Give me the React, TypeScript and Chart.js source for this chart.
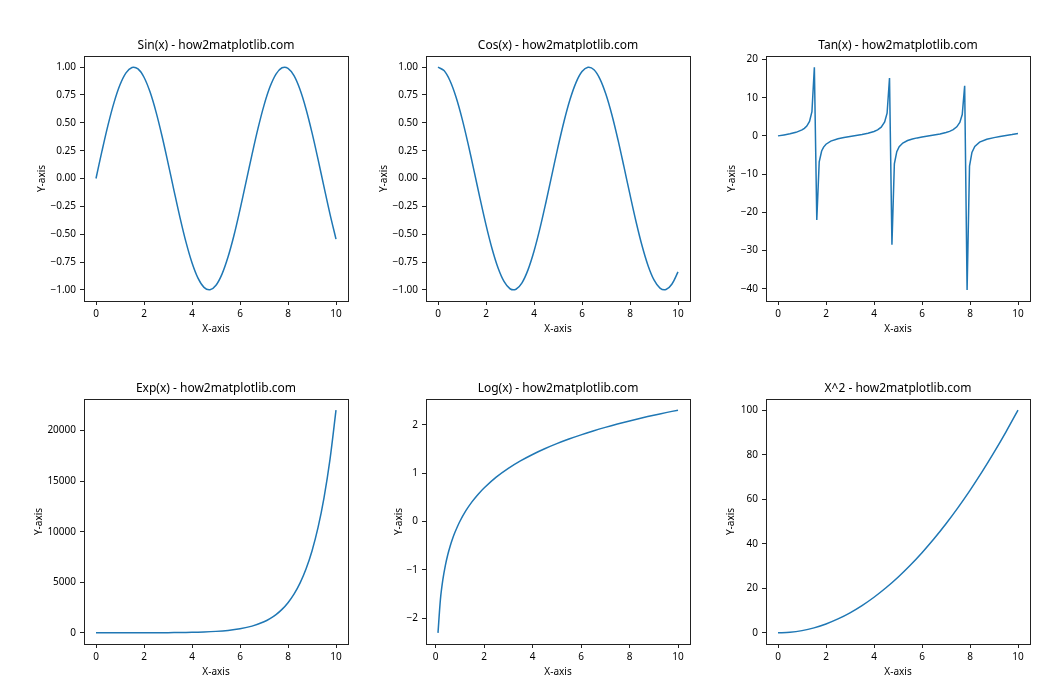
import React, { useEffect, useRef } from "react";
import { Chart, registerables } from "chart.js";

Chart.register(...registerables);

const FONT = "'Noto Sans', 'DejaVu Sans', sans-serif";
const LINE = "#1f77b4";
const INK = "#222222";

// ---------- data ----------
const xQuarter = [
  0, 0.25, 0.5, 0.75, 1, 1.25, 1.5, 1.75, 2, 2.25, 2.5, 2.75, 3, 3.25, 3.5, 3.75, 4, 4.25, 4.5, 4.75,
  5, 5.25, 5.5, 5.75, 6, 6.25, 6.5, 6.75, 7, 7.25, 7.5, 7.75, 8, 8.25, 8.5, 8.75, 9, 9.25, 9.5, 9.75, 10,
];
const sinValues = [
  0, 0.2474, 0.4794, 0.6816, 0.8415, 0.949, 0.9975, 0.984, 0.9093, 0.7781, 0.5985, 0.3817, 0.1411,
  -0.1082, -0.3508, -0.5716, -0.7568, -0.895, -0.9775, -0.9993, -0.9589, -0.8589, -0.7055, -0.5099,
  -0.2794, -0.0332, 0.2151, 0.45, 0.657, 0.8231, 0.938, 0.9946, 0.9894, 0.9228, 0.7985, 0.6247, 0.4121,
  0.1743, -0.0752, -0.3195, -0.544,
];
const cosValues = [
  1, 0.9689, 0.8776, 0.7317, 0.5403, 0.3153, 0.0707, -0.1782, -0.4161, -0.6282, -0.8011, -0.9243, -0.99,
  -0.9941, -0.9365, -0.8206, -0.6536, -0.4461, -0.2108, 0.0376, 0.2837, 0.5117, 0.7087, 0.8612, 0.9602,
  0.9994, 0.9766, 0.893, 0.7539, 0.568, 0.3466, 0.1038, -0.1455, -0.3857, -0.602, -0.7808, -0.9111,
  -0.9847, -0.9972, -0.9477, -0.8391,
];
const tanX = [
  0, 0.25, 0.5, 0.75, 1, 1.1, 1.2, 1.3131, 1.4141, 1.5152, 1.6162, 1.7172, 1.8182, 1.9, 2, 2.2, 2.5,
  2.75, 3, 3.25, 3.5, 3.75, 4, 4.15, 4.3, 4.4444, 4.5455, 4.6465, 4.7475, 4.8485, 4.9495, 5.05, 5.2,
  5.4, 5.6, 5.8, 6, 6.25, 6.5, 6.75, 7, 7.15, 7.3, 7.45, 7.5758, 7.6768, 7.7778, 7.8788, 7.9798,
  8.0808, 8.2, 8.4, 8.7, 9, 9.25, 9.5, 9.75, 10,
];
const tanValues = [
  0, 0.2553, 0.546, 0.9316, 1.557, 1.965, 2.572, 3.79, 6.33, 17.97, -22.0, -6.78, -3.96, -2.927, -2.185,
  -1.374, -0.747, -0.4129, -0.1425, 0.1088, 0.3746, 0.6978, 1.158, 1.588, 2.296, 3.64, 5.93, 15.15,
  -28.5, -7.31, -4.14, -2.835, -1.864, -1.222, -0.814, -0.5251, -0.291, -0.0332, 0.2203, 0.504,
  0.8714, 1.177, 1.62, 2.366, 3.5, 5.58, 13.1, -40.3, -7.91, -4.33, -2.748, -1.646, -0.8838, -0.4523,
  -0.1766, 0.0753, 0.3373, 0.6484,
];
const expX = [
  0, 0.5, 1, 1.5, 2, 2.5, 3, 3.5, 4, 4.5, 5, 5.5, 6, 6.5, 7, 7.25, 7.5, 7.75, 8, 8.25, 8.5, 8.75, 9,
  9.25, 9.5, 9.75, 10,
];
const expValues = [
  1, 1.65, 2.72, 4.48, 7.39, 12.18, 20.09, 33.12, 54.6, 90.0, 148.4, 244.7, 403.4, 665.1, 1096.6,
  1408.1, 1808.0, 2321.6, 2981.0, 3827.6, 4914.8, 6310.7, 8103.1, 10404.6, 13359.7, 17154.2, 22026.5,
];
const logX = [
  0.1, 0.2, 0.3, 0.4, 0.5, 0.6, 0.7, 0.8, 1, 1.25, 1.5, 1.75, 2, 2.5, 3, 3.5, 4, 4.5, 5, 5.5, 6, 6.5,
  7, 7.5, 8, 8.5, 9, 9.5, 10,
];
const logValues = [
  -2.3026, -1.6094, -1.204, -0.9163, -0.6931, -0.5108, -0.3567, -0.2231, 0, 0.2231, 0.4055, 0.5596,
  0.6931, 0.9163, 1.0986, 1.2528, 1.3863, 1.5041, 1.6094, 1.7047, 1.7918, 1.8718, 1.9459, 2.0149,
  2.0794, 2.1401, 2.1972, 2.2513, 2.3026,
];
const sqX = [0, 0.5, 1, 1.5, 2, 2.5, 3, 3.5, 4, 4.5, 5, 5.5, 6, 6.5, 7, 7.5, 8, 8.5, 9, 9.5, 10];
const sqValues = [
  0, 0.25, 1, 2.25, 4, 6.25, 9, 12.25, 16, 20.25, 25, 30.25, 36, 42.25, 49, 56.25, 64, 72.25, 81,
  90.25, 100,
];

const xTicks = [0, 2, 4, 6, 8, 10];
const xTickLabels = ["0", "2", "4", "6", "8", "10"];
const unitTicks = [-1, -0.75, -0.5, -0.25, 0, 0.25, 0.5, 0.75, 1];
const unitTickLabels = ["−1.00", "−0.75", "−0.50", "−0.25", "0.00", "0.25", "0.50", "0.75", "1.00"];
const tanTicks = [-40, -30, -20, -10, 0, 10, 20];
const tanTickLabels = ["−40", "−30", "−20", "−10", "0", "10", "20"];
const expTicks = [0, 5000, 10000, 15000, 20000];
const expTickLabels = ["0", "5000", "10000", "15000", "20000"];
const logTicks = [-2, -1, 0, 1, 2];
const logTickLabels = ["−2", "−1", "0", "1", "2"];
const sqTicks = [0, 20, 40, 60, 80, 100];
const sqTickLabels = ["0", "20", "40", "60", "80", "100"];

const titles = [
  "Sin(x) - how2matplotlib.com",
  "Cos(x) - how2matplotlib.com",
  "Tan(x) - how2matplotlib.com",
  "Exp(x) - how2matplotlib.com",
  "Log(x) - how2matplotlib.com",
  "X^2 - how2matplotlib.com",
];

// ---------- layout ----------
const PW = 264;
const PH = 245;
const LEFTS = [84, 426, 766];
const TOPS = [56, 399];
const PAD_L = 80;
const PAD_T = 40;
const PAD_R = 20;
const PAD_B = 45;

type PanelDef = {
  title: string;
  xs: number[];
  ys: number[];
  xMin: number;
  xMax: number;
  yMin: number;
  yMax: number;
  yTicks: number[];
  yTickLabels: string[];
  ylabelDist: number;
  tension: number;
  left: number;
  top: number;
};

const panels: PanelDef[] = [
  { title: titles[0], xs: xQuarter, ys: sinValues, xMin: -0.5, xMax: 10.5, yMin: -1.1, yMax: 1.1, yTicks: unitTicks, yTickLabels: unitTickLabels, ylabelDist: 42, tension: 0.35, left: LEFTS[0], top: TOPS[0] },
  { title: titles[1], xs: xQuarter, ys: cosValues, xMin: -0.5, xMax: 10.5, yMin: -1.1, yMax: 1.1, yTicks: unitTicks, yTickLabels: unitTickLabels, ylabelDist: 42, tension: 0.35, left: LEFTS[1], top: TOPS[0] },
  { title: titles[2], xs: tanX, ys: tanValues, xMin: -0.5, xMax: 10.5, yMin: -43.2, yMax: 20.9, yTicks: tanTicks, yTickLabels: tanTickLabels, ylabelDist: 34, tension: 0, left: LEFTS[2], top: TOPS[0] },
  { title: titles[3], xs: expX, ys: expValues, xMin: -0.5, xMax: 10.5, yMin: -1100, yMax: 23128, yTicks: expTicks, yTickLabels: expTickLabels, ylabelDist: 45, tension: 0.3, left: LEFTS[0], top: TOPS[1] },
  { title: titles[4], xs: logX, ys: logValues, xMin: -0.395, xMax: 10.495, yMin: -2.533, yMax: 2.533, yTicks: logTicks, yTickLabels: logTickLabels, ylabelDist: 27, tension: 0.3, left: LEFTS[1], top: TOPS[1] },
  { title: titles[5], xs: sqX, ys: sqValues, xMin: -0.5, xMax: 10.5, yMin: -5, yMax: 105, yTicks: sqTicks, yTickLabels: sqTickLabels, ylabelDist: 35, tension: 0.3, left: LEFTS[2], top: TOPS[1] },
];

const framePlugin = {
  id: "frame",
  afterDraw(chart: any) {
    const { ctx, chartArea } = chart;
    const { left, top, right, bottom } = chartArea;
    ctx.save();
    ctx.strokeStyle = INK;
    ctx.lineWidth = 1;
    ctx.strokeRect(left + 0.5, top + 0.5, right - left, bottom - top);
    ctx.restore();
  },
};

function makeTitlePlugin(text: string) {
  return {
    id: "plotTitle",
    afterDraw(chart: any) {
      const { ctx, chartArea } = chart;
      ctx.save();
      ctx.fillStyle = "#000";
      ctx.font = `12px ${FONT}`;
      ctx.textAlign = "center";
      ctx.textBaseline = "alphabetic";
      ctx.fillText(text, (chartArea.left + chartArea.right) / 2, chartArea.top - 7);
      ctx.restore();
    },
  };
}

function Panel({ p }: { p: PanelDef }) {
  const ref = useRef<HTMLCanvasElement | null>(null);
  useEffect(() => {
    if (!ref.current) return;
    const tickFont = { family: FONT, size: 10 };
    const chart = new Chart(ref.current, {
      type: "line",
      data: {
        datasets: [
          {
            data: p.xs.map((x, i) => ({ x, y: p.ys[i] })),
            borderColor: LINE,
            borderWidth: 1.5,
            pointRadius: 0,
            tension: p.tension,
            fill: false,
          },
        ],
      },
      options: {
        animation: false,
        responsive: false,
        maintainAspectRatio: false,
        layout: { padding: { left: 0, top: PAD_T, right: PAD_R, bottom: 0 } },
        plugins: {
          legend: { display: false },
          tooltip: { enabled: false },
          title: { display: false },
        },
        scales: {
          x: {
            type: "linear",
            min: p.xMin,
            max: p.xMax,
            afterBuildTicks: (s: any) => {
              s.ticks = xTicks.map((v) => ({ value: v }));
            },
            afterFit: (s: any) => {
              s.height = PAD_B;
            },
            ticks: {
              callback: (_v: any, i: number) => xTickLabels[i],
              font: tickFont,
              color: "#000",
              padding: 3,
              maxRotation: 0,
              minRotation: 0,
              autoSkip: false,
            },
            grid: {
              drawOnChartArea: false,
              drawTicks: true,
              tickLength: 4,
              color: INK,
              tickColor: INK,
            },
            border: { display: false },
            title: {
              display: true,
              text: "X-axis",
              font: tickFont,
              color: "#000",
              padding: { top: 0, bottom: 11 },
            },
          },
          y: {
            type: "linear",
            min: p.yMin,
            max: p.yMax,
            afterBuildTicks: (s: any) => {
              s.ticks = p.yTicks.map((v) => ({ value: v }));
            },
            afterFit: (s: any) => {
              s.width = PAD_L;
            },
            ticks: {
              callback: (_v: any, i: number) => p.yTickLabels[i],
              font: tickFont,
              color: "#000",
              padding: 4,
              autoSkip: false,
            },
            grid: {
              drawOnChartArea: false,
              drawTicks: true,
              tickLength: 4,
              color: INK,
              tickColor: INK,
            },
            border: { display: false },
            title: {
              display: true,
              text: "Y-axis",
              font: tickFont,
              color: "#000",
              padding: { top: 74 - p.ylabelDist, bottom: 0 },
            },
          },
        },
      },
      plugins: [framePlugin, makeTitlePlugin(p.title)],
    } as any);
    return () => chart.destroy();
  }, [p]);

  const w = PW + PAD_L + PAD_R;
  const h = PH + PAD_T + PAD_B;
  return (
    <canvas
      ref={ref}
      width={w}
      height={h}
      style={{ position: "absolute", left: p.left - PAD_L, top: p.top - PAD_T, width: w, height: h }}
    />
  );
}

export default function App() {
  return (
    <div
      style={{
        position: "absolute",
        left: 0,
        top: 0,
        width: 1050,
        height: 700,
        background: "#fff",
        overflow: "hidden",
      }}
    >
      {panels.map((p, i) => (
        <Panel key={i} p={p} />
      ))}
    </div>
  );
}
